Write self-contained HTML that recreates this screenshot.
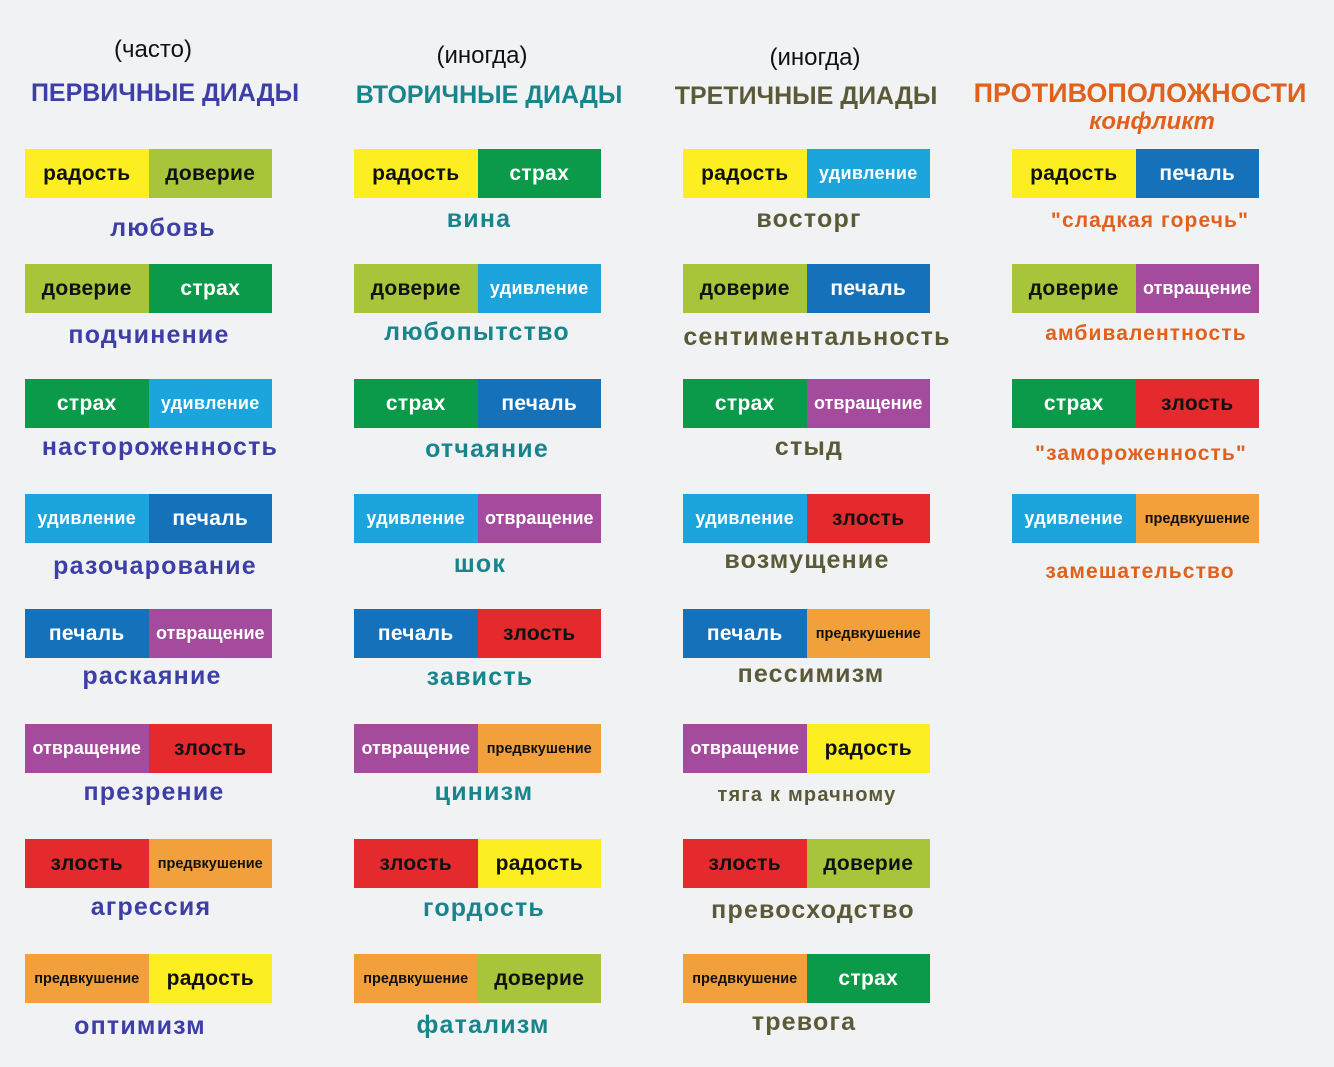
<!DOCTYPE html>
<html><head><meta charset="utf-8"><style>
body{margin:0;width:1334px;height:1067px;background:#f1f2f4;position:relative;overflow:hidden;font-family:"Liberation Sans","DejaVu Sans",sans-serif;font-weight:bold}
.b{position:absolute;width:247px;height:49px;display:flex}
.b i{font-style:normal;width:123.5px;height:49px;display:flex;align-items:center;justify-content:center;white-space:nowrap;font-size:21px;letter-spacing:0.3px}
.y{background:#fcee21;color:#111}
.lg{background:#a8c43a;color:#111}
.g{background:#0b9a4a;color:#fff}
.c{background:#1ba5dc;color:#fff;font-size:18px!important}
.bl{background:#1571b9;color:#fff}
.p{background:#a44b9d;color:#fff;font-size:18px!important;letter-spacing:0!important}
.r{background:#e52a2e;color:#111}
.o{background:#f1a03b;color:#111;font-size:14.5px!important;letter-spacing:0!important}
.l{position:absolute;width:400px;text-align:center;font-size:25px;line-height:28px;letter-spacing:1.2px}
.k1{color:#3d3fa6}.k2{color:#17858c}.k3{color:#5a5a36}.k4{color:#e0601c;font-size:21px;letter-spacing:1.1px}
.h{position:absolute;width:400px;text-align:center;line-height:30px}
.n{font-weight:normal;font-size:24px;color:#111}
.t{font-size:25px}
</style></head><body>
<div class="h n" style="left:-47px;top:35px">(часто)</div>
<div class="h t k1" style="left:-35px;top:78px">ПЕРВИЧНЫЕ ДИАДЫ</div>
<div class="h n" style="left:282px;top:41px">(иногда)</div>
<div class="h t k2" style="left:289px;top:80px">ВТОРИЧНЫЕ ДИАДЫ</div>
<div class="h n" style="left:615px;top:43px">(иногда)</div>
<div class="h t k3" style="left:606px;top:81px">ТРЕТИЧНЫЕ ДИАДЫ</div>
<div class="h" style="left:940px;top:78px;color:#e0601c;font-size:27px">ПРОТИВОПОЛОЖНОСТИ</div>
<div class="h" style="left:952px;top:107px;color:#e0601c;font-style:italic;font-size:24px">конфликт</div>

<div class="b" style="left:25px;top:149px"><i class="y">радость</i><i class="lg">доверие</i></div>
<div class="l k1" style="left:-37px;top:214px">любовь</div>
<div class="b" style="left:25px;top:264px"><i class="lg">доверие</i><i class="g">страх</i></div>
<div class="l k1" style="left:-51px;top:321px">подчинение</div>
<div class="b" style="left:25px;top:379px"><i class="g">страх</i><i class="c">удивление</i></div>
<div class="l k1" style="left:-40px;top:433px">настороженность</div>
<div class="b" style="left:25px;top:494px"><i class="c">удивление</i><i class="bl">печаль</i></div>
<div class="l k1" style="left:-45px;top:552px">разочарование</div>
<div class="b" style="left:25px;top:609px"><i class="bl">печаль</i><i class="p">отвращение</i></div>
<div class="l k1" style="left:-48px;top:662px">раскаяние</div>
<div class="b" style="left:25px;top:724px"><i class="p">отвращение</i><i class="r">злость</i></div>
<div class="l k1" style="left:-46px;top:778px">презрение</div>
<div class="b" style="left:25px;top:839px"><i class="r">злость</i><i class="o">предвкушение</i></div>
<div class="l k1" style="left:-49px;top:893px">агрессия</div>
<div class="b" style="left:25px;top:954px"><i class="o">предвкушение</i><i class="y">радость</i></div>
<div class="l k1" style="left:-60px;top:1012px">оптимизм</div>

<div class="b" style="left:354px;top:149px"><i class="y">радость</i><i class="g">страх</i></div>
<div class="l k2" style="left:279px;top:205px">вина</div>
<div class="b" style="left:354px;top:264px"><i class="lg">доверие</i><i class="c">удивление</i></div>
<div class="l k2" style="left:277px;top:318px">любопытство</div>
<div class="b" style="left:354px;top:379px"><i class="g">страх</i><i class="bl">печаль</i></div>
<div class="l k2" style="left:287px;top:435px">отчаяние</div>
<div class="b" style="left:354px;top:494px"><i class="c">удивление</i><i class="p">отвращение</i></div>
<div class="l k2" style="left:280px;top:550px">шок</div>
<div class="b" style="left:354px;top:609px"><i class="bl">печаль</i><i class="r">злость</i></div>
<div class="l k2" style="left:280px;top:663px">зависть</div>
<div class="b" style="left:354px;top:724px"><i class="p">отвращение</i><i class="o">предвкушение</i></div>
<div class="l k2" style="left:284px;top:778px">цинизм</div>
<div class="b" style="left:354px;top:839px"><i class="r">злость</i><i class="y">радость</i></div>
<div class="l k2" style="left:284px;top:894px">гордость</div>
<div class="b" style="left:354px;top:954px"><i class="o">предвкушение</i><i class="lg">доверие</i></div>
<div class="l k2" style="left:283px;top:1011px">фатализм</div>

<div class="b" style="left:683px;top:149px"><i class="y">радость</i><i class="c">удивление</i></div>
<div class="l k3" style="left:609px;top:205px">восторг</div>
<div class="b" style="left:683px;top:264px"><i class="lg">доверие</i><i class="bl">печаль</i></div>
<div class="l k3" style="left:617px;top:323px">сентиментальность</div>
<div class="b" style="left:683px;top:379px"><i class="g">страх</i><i class="p">отвращение</i></div>
<div class="l k3" style="left:609px;top:433px">стыд</div>
<div class="b" style="left:683px;top:494px"><i class="c">удивление</i><i class="r">злость</i></div>
<div class="l k3" style="left:607px;top:546px">возмущение</div>
<div class="b" style="left:683px;top:609px"><i class="bl">печаль</i><i class="o">предвкушение</i></div>
<div class="l k3" style="left:611px;top:660px">пессимизм</div>
<div class="b" style="left:683px;top:724px"><i class="p">отвращение</i><i class="y">радость</i></div>
<div class="l k3" style="left:607px;top:781px;font-size:20px">тяга к мрачному</div>
<div class="b" style="left:683px;top:839px"><i class="r">злость</i><i class="lg">доверие</i></div>
<div class="l k3" style="left:613px;top:896px">превосходство</div>
<div class="b" style="left:683px;top:954px"><i class="o">предвкушение</i><i class="g">страх</i></div>
<div class="l k3" style="left:604px;top:1008px">тревога</div>

<div class="b" style="left:1012px;top:149px"><i class="y">радость</i><i class="bl">печаль</i></div>
<div class="l k4" style="left:950px;top:207px">"сладкая горечь"</div>
<div class="b" style="left:1012px;top:264px"><i class="lg">доверие</i><i class="p">отвращение</i></div>
<div class="l k4" style="left:946px;top:320px">амбивалентность</div>
<div class="b" style="left:1012px;top:379px"><i class="g">страх</i><i class="r">злость</i></div>
<div class="l k4" style="left:941px;top:440px">"замороженность"</div>
<div class="b" style="left:1012px;top:494px"><i class="c">удивление</i><i class="o">предвкушение</i></div>
<div class="l k4" style="left:940px;top:558px">замешательство</div>
</body></html>
